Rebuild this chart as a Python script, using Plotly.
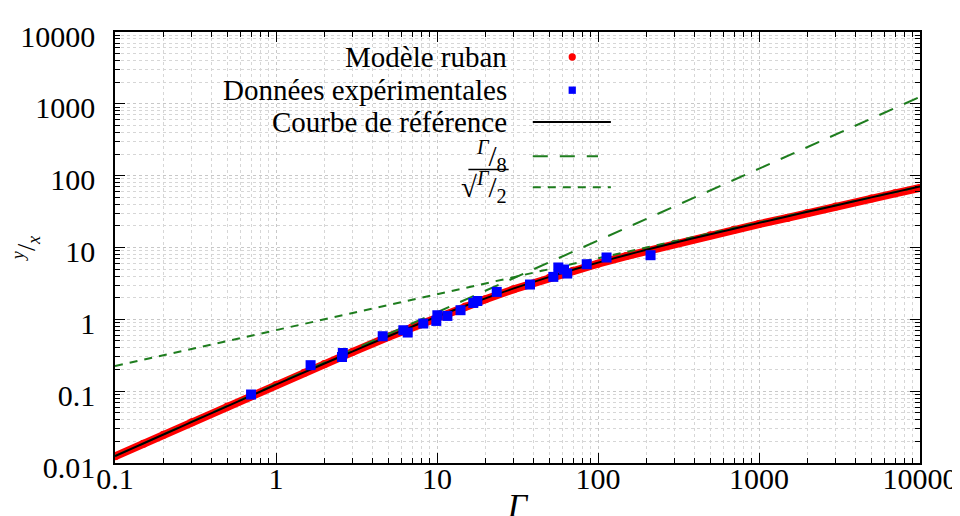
import plotly.graph_objects as go

# ---- data ----
ref_gamma = [0.1, 0.2, 0.3, 0.5, 1, 2, 3, 5, 7, 10, 15, 20, 30, 50, 70, 100,
             150, 200, 300, 500, 700, 1000, 2000, 3000, 5000, 7000, 10000]
ref_y = [0.01248, 0.02492, 0.03733, 0.0620, 0.1231, 0.2425, 0.3586, 0.5812,
         0.7926, 1.091, 1.547, 1.961, 2.694, 3.904, 4.901, 6.155, 7.862,
         9.285, 11.64, 15.33, 18.29, 22.01, 31.37, 38.53, 49.84, 59.03, 70.60]

model_gamma = [0.1, 0.15, 0.2, 0.3, 0.5, 0.7, 1, 1.5, 2, 3, 5, 7, 10, 15, 20,
               30, 50, 70, 100, 150, 200, 300, 500, 700, 1000, 1500, 2000,
               3000, 5000, 7000, 10000]
model_y = [0.0124, 0.0186, 0.0247, 0.0370, 0.0613, 0.0852, 0.1215, 0.180,
           0.239, 0.353, 0.571, 0.778, 1.07, 1.51, 1.91, 2.62, 3.79, 4.75,
           5.96, 7.61, 8.98, 11.25, 14.8, 17.6, 21.2, 25.8, 30.2, 37.1,
           48.0, 56.8, 67.6]

exp_gamma = [0.70, 1.64, 2.60, 2.57, 4.60, 6.18, 6.58, 8.22, 10.05, 9.9, 11.6,
             14.0, 16.8, 17.8, 23.5, 37.8, 52.8, 56.7, 61.5, 64.4, 85.1, 113, 212]
exp_y = [0.0898, 0.230, 0.340, 0.299, 0.582, 0.705, 0.655, 0.874, 1.14, 0.95,
         1.115, 1.34, 1.69, 1.80, 2.41, 3.05, 3.90, 5.27, 4.94, 4.34, 5.85,
         7.26, 7.81]

lin_gamma = [0.1, 10000]
lin_y = [0.0125, 1250]          # Γ/8
sqrt_gamma = [0.1, 10000]
sqrt_y = [0.2236, 70.71]        # sqrt(Γ/2)

x_tickvals = [0.1, 1, 10, 100, 1000, 10000]
x_ticktext = ["0.1", "1", "10", "100", "1000", "10000"]
y_tickvals = [0.01, 0.1, 1, 10, 100, 1000, 10000]
y_ticktext = ["0.01", "0.1", "1", "10", "100", "1000", "10000"]

legend_labels = ["Modèle ruban", "Données expérimentales", "Courbe de référence",
                 "<sup><i>Γ</i></sup>/<sub>8</sub>",
                 "√<sup><i>Γ</i></sup>/<sub>2</sub>"]

GREEN = "#1e7d1e"
FONT = "Liberation Serif"

fig = go.Figure()
fig.add_trace(go.Scatter(x=model_gamma, y=model_y, mode="lines+markers",
                         line=dict(color="#ff0000", width=8),
                         marker=dict(color="#ff0000", size=8), showlegend=False))
fig.add_trace(go.Scatter(x=lin_gamma, y=lin_y, mode="lines",
                         line=dict(color=GREEN, width=2, dash="15px,12px"),
                         showlegend=False))
fig.add_trace(go.Scatter(x=sqrt_gamma, y=sqrt_y, mode="lines",
                         line=dict(color=GREEN, width=2, dash="8px,7px"),
                         showlegend=False))
fig.add_trace(go.Scatter(x=ref_gamma, y=ref_y, mode="lines",
                         line=dict(color="black", width=2, shape="spline"),
                         showlegend=False))
fig.add_trace(go.Scatter(x=exp_gamma, y=exp_y, mode="markers",
                         marker=dict(color="#0000ff", size=10, symbol="square"),
                         showlegend=False))

axis_common = dict(type="log", showline=True, linecolor="black", linewidth=1.5,
                   mirror="allticks", ticks="inside", ticklen=10, tickwidth=1,
                   tickcolor="black", showgrid=True, gridcolor="#c8c8c8",
                   griddash="dot", gridwidth=1, zeroline=False, automargin=False,
                   tickfont=dict(family=FONT, size=30, color="black"),
                   minor=dict(dtick="D1", ticks="inside", ticklen=5, tickwidth=1,
                              tickcolor="black", showgrid=True, gridcolor="#d6d6d6",
                              griddash="dot", gridwidth=1))

fig.update_xaxes(**axis_common, range=[-1, 4], tickvals=x_tickvals,
                 ticktext=x_ticktext, ticklabelstandoff=-12,
                 title=dict(text="<i>Γ</i>", font=dict(family=FONT, size=34, color="black"),
                            standoff=16))
fig.update_yaxes(**axis_common, range=[-2, 4], tickvals=y_tickvals,
                 ticktext=y_ticktext, ticklabelstandoff=12, ticklabelshift=4,
                 title=dict(text="<sup><i>y</i></sup>/<sub><i>x</i></sub>",
                            font=dict(family=FONT, size=26, color="black"),
                            standoff=0))

# manual legend (text right-aligned, sample on the right)
shapes = [dict(type="rect", xref="paper", yref="paper", x0=0.0137, x1=0.636,
               y0=0.591, y1=0.988, fillcolor="white", line=dict(width=0),
               layer="below")]
rows = [0.942, 0.865, 0.791, 0.712, 0.640]
annotations = []
for lab, yy in zip(legend_labels, rows):
    annotations.append(dict(text=lab, xref="paper", yref="paper", x=0.489, y=yy,
                            xanchor="right", yanchor="middle", showarrow=False,
                            font=dict(family=FONT, size=29, color="black")))
mx = 0.568
shapes.append(dict(type="circle", xref="paper", yref="paper",
                   x0=mx - 0.0045, x1=mx + 0.0045, y0=rows[0] - 0.0085,
                   y1=rows[0] + 0.0085, fillcolor="#ff0000", line=dict(width=0)))
shapes.append(dict(type="rect", xref="paper", yref="paper",
                   x0=mx - 0.0045, x1=mx + 0.0045, y0=rows[1] - 0.0085,
                   y1=rows[1] + 0.0085, fillcolor="#0000ff", line=dict(width=0)))
shapes.append(dict(type="line", xref="paper", yref="paper", x0=0.519, x1=0.616,
                   y0=rows[2], y1=rows[2], line=dict(color="black", width=2)))
shapes.append(dict(type="line", xref="paper", yref="paper", x0=0.519, x1=0.6,
                   y0=rows[3], y1=rows[3],
                   line=dict(color=GREEN, width=2, dash="15px,12px")))
shapes.append(dict(type="line", xref="paper", yref="paper", x0=0.519, x1=0.616,
                   y0=rows[4], y1=rows[4],
                   line=dict(color=GREEN, width=2, dash="8px,7px")))
# vinculum of the square root in the legend
shapes.append(dict(type="line", xref="paper", yref="paper", x0=0.439, x1=0.489,
                   y0=rows[4] + 0.041, y1=rows[4] + 0.041,
                   line=dict(color="black", width=1.5)))

fig.update_layout(width=960, height=516, margin=dict(l=107, r=48, t=24, b=61),
                  plot_bgcolor="white", paper_bgcolor="white",
                  shapes=shapes, annotations=annotations, showlegend=False,
                  font=dict(family=FONT, color="black"))

fig.write_html("out.html")
